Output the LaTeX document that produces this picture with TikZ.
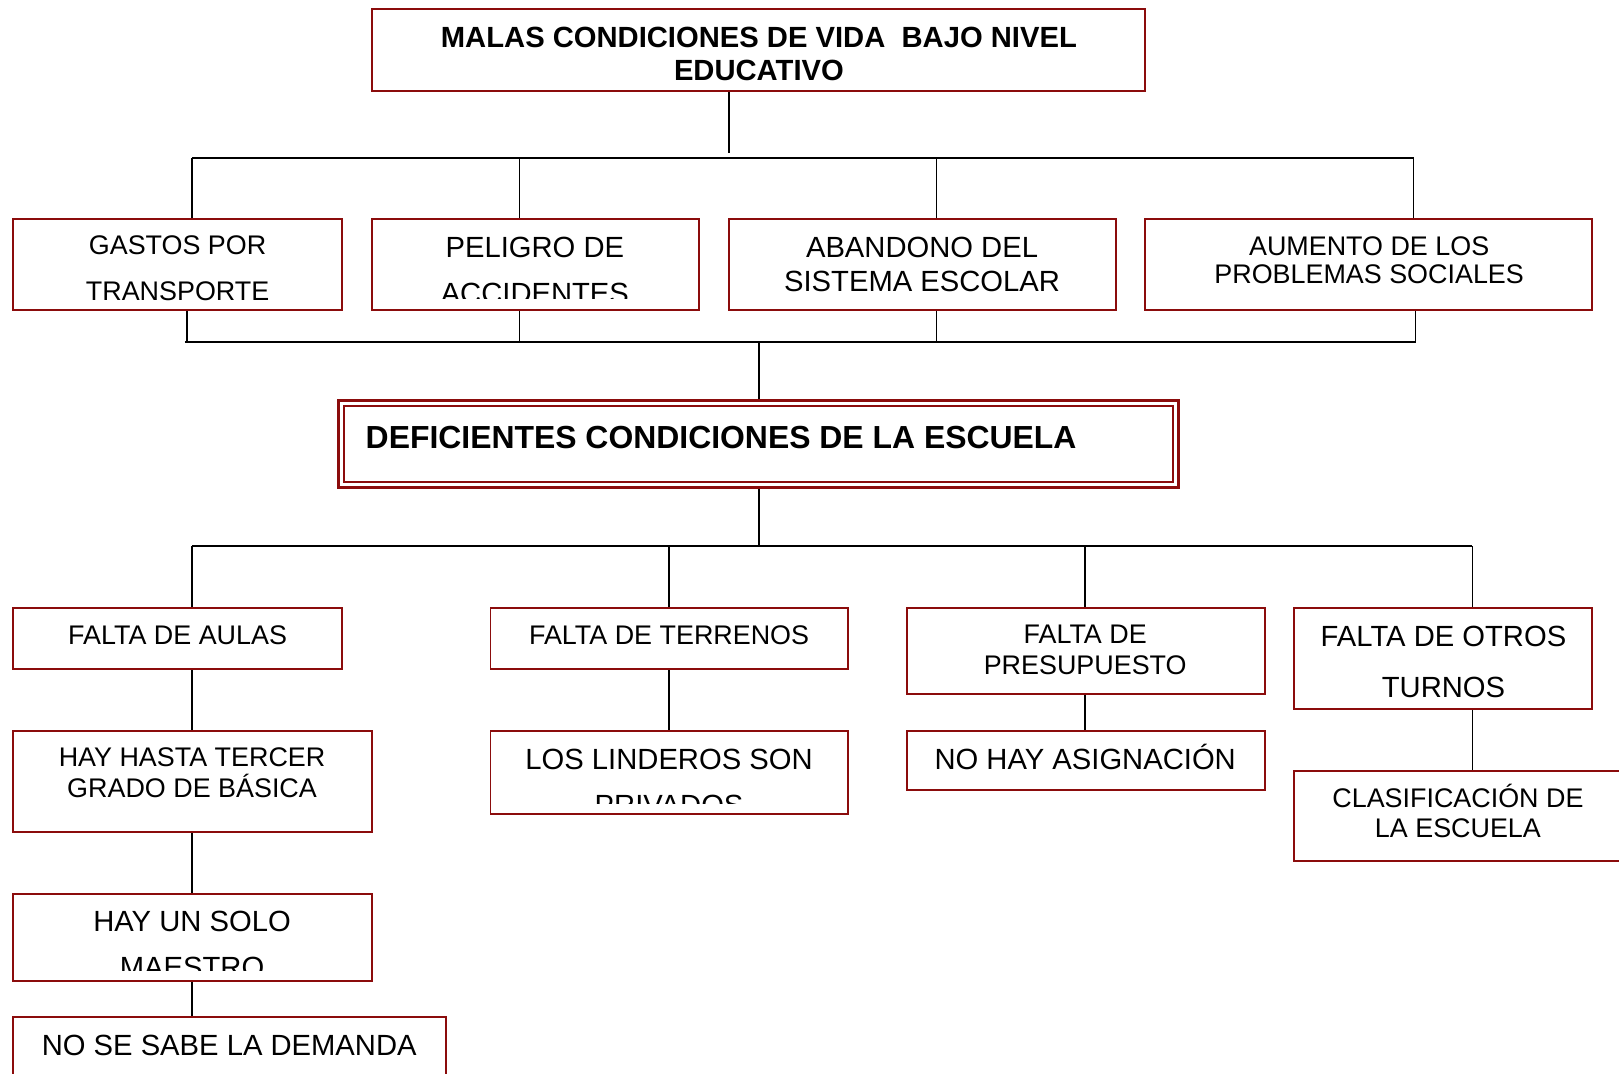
\documentclass[tikz,border=0pt]{standalone}
\usepackage{fontspec}
\setmainfont{Liberation Sans}
\usetikzlibrary{fit}
\definecolor{boxred}{RGB}{139,12,12}
\begin{document}
\begin{tikzpicture}[x=1.0325pt,y=-1.0325pt,
  box/.style={draw=boxred,line width=1.9pt,inner sep=0pt},
  conn/.style={draw=black,line width=1.7pt},
  bus/.style={draw=black,line width=2.2pt},
  txtS/.style={inner sep=0pt,font=\fontsize{26.9}{30}\selectfont},
  txtL/.style={inner sep=0pt,font=\fontsize{29.2}{33}\selectfont},
  txtB/.style={inner sep=0pt,font=\bfseries\fontsize{29.2}{33}\selectfont},
  txtD/.style={inner sep=0pt,font=\bfseries\fontsize{31.9}{36}\selectfont}]
\useasboundingbox[fill=white] (0,0) rectangle (1568,1040);

% ---- boxes
\node[box,fit={(360,9) (1109,88)}] (top) {};
\node[box,fit={(13,212) (331,300)}] (gastos) {};
\node[box,fit={(360,212) (677,300)}] (peligro) {};
\node[box,fit={(706,212) (1081,300)}] (abandono) {};
\node[box,fit={(1109,212) (1542,300)}] (aumento) {};
\node[draw=boxred,line width=3pt,inner sep=0pt,fit={(328,388) (1141,472)}] (def) {};
\node[draw=boxred,line width=1.7pt,inner sep=0pt,fit={(333,393) (1136,467)}] (defin) {};
\node[box,fit={(13,589) (331,648)}] (aulas) {};
\node[box,fit={(475,589) (821,648)}] (terrenos) {};
\node[box,fit={(878,589) (1225,672)}] (presup) {};
\node[box,fit={(1253,589) (1542,687)}] (otros) {};
\node[box,fit={(13,708) (360,806)}] (hasta) {};
\node[box,fit={(475,708) (821,788)}] (linderos) {};
\node[box,fit={(878,708) (1225,765)}] (asign) {};
\node[box,fit={(1253,747) (1600,834)}] (clasif) {};
\node[box,fit={(13,866) (360,950)}] (solo) {};
\node[box,fit={(13,985) (432,1060)}] (demanda) {};

% ---- texts
\node[txtB,anchor=base] (topT1) at (735,46.1) {MALAS CONDICIONES DE VIDA\ \ BAJO NIVEL};
\node[txtB,anchor=base] (topT2) at (735,78.1) {EDUCATIVO};
\begin{scope}
\clip (13,212) rectangle (331,290.6);
\node[txtS,anchor=base] (gastosT1) at (172,246.2) {GASTOS POR};
\node[txtS,anchor=base] (gastosT2) at (172,291.2) {TRANSPORTE};
\end{scope}
\begin{scope}
\clip (360,212) rectangle (677,289);
\node[txtL,anchor=base] (peligroT1) at (518,249.1) {PELIGRO DE};
\node[txtL,anchor=base] (peligroT2) at (518,294.1) {ACCIDENTES};
\end{scope}
\node[txtL,anchor=base] (abandonoT1) at (893,249.1) {ABANDONO DEL};
\node[txtL,anchor=base] (abandonoT2) at (893,282.1) {SISTEMA ESCOLAR};
\node[txtS,anchor=base] (aumentoT1) at (1326,247) {AUMENTO DE LOS};
\node[txtS,anchor=base] (aumentoT2) at (1326,275) {PROBLEMAS SOCIALES};
\node[txtD,anchor=base west] (defT) at (354,434.1) {DEFICIENTES CONDICIONES DE LA ESCUELA};
\node[txtS,anchor=base] (aulasT) at (172,624.2) {FALTA DE AULAS};
\node[txtS,anchor=base] (terrenosT) at (648,624.2) {FALTA DE TERRENOS};
\node[txtS,anchor=base] (presupT1) at (1051,623.2) {FALTA DE};
\node[txtS,anchor=base] (presupT2) at (1051,653.2) {PRESUPUESTO};
\node[txtL,anchor=base] (otrosT1) at (1398,626.1) {FALTA DE OTROS};
\node[txtL,anchor=base] (otrosT2) at (1398,675.1) {TURNOS};
\node[txtS,anchor=base] (hastaT1) at (186,742.2) {HAY HASTA TERCER};
\node[txtS,anchor=base] (hastaT2) at (186,772.2) {GRADO DE BÁSICA};
\begin{scope}
\clip (475,708) rectangle (821,778);
\node[txtL,anchor=base] (linderosT1) at (648,745.1) {LOS LINDEROS SON};
\node[txtL,anchor=base] (linderosT2) at (648,790.1) {PRIVADOS};
\end{scope}
\node[txtL,anchor=base] (asignT) at (1051,745.1) {NO HAY ASIGNACIÓN};
\node[txtS,anchor=base] (clasifT1) at (1412,782.2) {CLASIFICACIÓN DE};
\node[txtS,anchor=base] (clasifT2) at (1412,811.2) {LA ESCUELA};
\begin{scope}
\clip (13,866) rectangle (360,940);
\node[txtL,anchor=base] (soloT1) at (186,902.1) {HAY UN SOLO};
\node[txtL,anchor=base] (soloT2) at (186,947.1) {MAESTRO};
\end{scope}
\node[txtL,anchor=base] (demandaT) at (222,1022.1) {NO SE SABE LA DEMANDA};

% ---- connectors, upper tree
\coordinate (j0) at (706,148);
\coordinate (b1L) at (186,153);
\coordinate (b1R) at (1369,153);
\coordinate (b1p) at (503,153);
\coordinate (b1a) at (907,153);
\draw[conn] (j0 |- top.south) -- (j0);
\draw[bus] (b1L) -- (b1R);
\draw[conn] (b1L) -- (b1L |- gastos.north);
\draw[conn] (b1p) -- (b1p |- peligro.north);
\draw[conn] (b1a) -- (b1a |- abandono.north);
\draw[conn] (b1R) -- (b1R |- aumento.north);

\coordinate (b2L) at (179,331);
\coordinate (b2g) at (181,331);
\coordinate (b2p) at (503,331);
\coordinate (b2a) at (907,331);
\coordinate (b2R) at (1371,331);
\coordinate (b2c) at (735,331);
\draw[bus] (b2L) -- (b2R);
\draw[conn] (b2g |- gastos.south) -- (b2g);
\draw[conn] (b2p |- peligro.south) -- (b2p);
\draw[conn] (b2a |- abandono.south) -- (b2a);
\draw[conn] (b2R |- aumento.south) -- (b2R);
\draw[conn] (b2c) -- (b2c |- def.north);

% ---- connectors, lower tree
\coordinate (b3c) at (735,529);
\coordinate (b3L) at (186,529);
\coordinate (b3t) at (648,529);
\coordinate (b3p) at (1051,529);
\coordinate (b3R) at (1426,529);
\draw[conn] (b3c |- def.south) -- (b3c);
\draw[bus] (b3L) -- (b3R);
\draw[conn] (b3L) -- (b3L |- aulas.north);
\draw[conn] (b3t) -- (b3t |- terrenos.north);
\draw[conn] (b3p) -- (b3p |- presup.north);
\draw[conn] (b3R) -- (b3R |- otros.north);

\draw[conn] (b3L |- aulas.south) -- (b3L |- hasta.north);
\draw[conn] (b3t |- terrenos.south) -- (b3t |- linderos.north);
\draw[conn] (b3p |- presup.south) -- (b3p |- asign.north);
\draw[conn] (b3R |- otros.south) -- (b3R |- clasif.north);
\draw[conn] (b3L |- hasta.south) -- (b3L |- solo.north);
\draw[conn] (b3L |- solo.south) -- (b3L |- demanda.north);
\end{tikzpicture}
\end{document}
